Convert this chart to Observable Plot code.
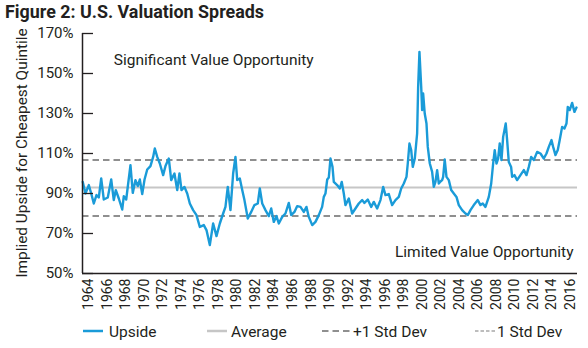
<!DOCTYPE html>
<html>
<head>
<meta charset="utf-8">
<script src="https://cdn.jsdelivr.net/npm/d3@7"></script>
<script src="https://cdn.jsdelivr.net/npm/@observablehq/plot@0.6"></script>
<style>
  html, body { margin: 0; padding: 0; background: #fff; }
  #wrap { position: relative; width: 588px; height: 348px; font-family: Roboto, sans-serif; color: #231f20; }
  #wrap > svg { position: absolute; left: 0; top: 0; }
</style>
</head>
<body>
<div id="wrap"></div>
<script>
const title = "Figure 2: U.S. Valuation Spreads";
const yLabel = "Implied Upside for Cheapest Quintile";

const years = [
  1963.35,1963.64,1964.00,1964.26,1964.54,1964.83,1965.08,1965.34,1965.62,1966.05,
  1966.42,1966.70,1966.92,1967.24,1967.61,1967.78,1968.04,1968.50,1968.75,1969.04,
  1969.29,1969.51,1969.77,1970.02,1970.31,1970.66,1970.95,1971.13,1971.39,1971.67,
  1972.03,1972.28,1972.64,1972.90,1973.25,1973.55,1973.79,1974.01,1974.33,1974.63,
  1974.91,1975.27,1975.63,1975.99,1976.42,1976.71,1977.07,1977.43,1977.79,1978.15,
  1978.51,1978.76,1979.01,1979.30,1979.59,1979.84,1980.03,1980.31,1980.57,1980.81,
  1981.17,1981.54,1981.89,1982.25,1982.47,1982.73,1983.08,1983.44,1983.70,1983.98,
  1984.27,1984.52,1984.89,1985.24,1985.60,1985.86,1986.21,1986.51,1986.86,1987.22,
  1987.51,1987.76,1988.13,1988.48,1988.84,1989.20,1989.38,1989.56,1989.75,1989.92,
  1990.10,1990.32,1990.46,1990.82,1991.11,1991.32,1991.54,1991.72,1992.08,1992.44,
  1992.80,1993.16,1993.52,1993.77,1994.13,1994.50,1994.78,1995.14,1995.50,1995.79,
  1996.04,1996.40,1996.76,1997.12,1997.48,1997.74,1998.02,1998.31,1998.45,1998.63,
  1998.82,1998.99,1999.21,1999.46,1999.57,1999.71,1999.90,2000.00,2000.11,2000.28,
  2000.47,2000.61,2000.83,2001.08,2001.26,2001.44,2001.62,2001.80,2001.98,2002.16,
  2002.27,2002.44,2002.63,2002.88,2003.14,2003.42,2003.71,2003.96,2004.32,2004.68,
  2004.93,2005.22,2005.58,2006.01,2006.30,2006.55,2006.84,2007.20,2007.46,2007.67,
  2007.84,2008.03,2008.21,2008.38,2008.57,2008.75,2008.89,2009.03,2009.18,2009.36,
  2009.61,2009.72,2009.97,2010.26,2010.62,2010.98,2011.27,2011.52,2011.78,2012.06,
  2012.42,2012.78,2013.14,2013.43,2013.68,2013.97,2014.15,2014.40,2014.65,2014.86,
  2015.12,2015.37,2015.59,2015.73,2015.94,2016.20,2016.45,2016.67
];
const upside = [
  95.8,90,94.2,90,85,89.2,88,97.5,87,88,
  97,86.7,91.7,87.5,82,88.7,87,104.2,90.3,96.7,
  93.7,97,89.7,97,102,103.7,108.3,112.5,108.3,105,
  99.2,103.7,107.5,96.7,100,91.7,100,91.7,93.3,90,
  85,81.7,79.2,73.3,74.2,71.7,64.2,75,68.7,75,
  80,83.3,93.3,81.7,100,108.3,96.7,97.5,91.7,86.7,
  77.5,80.8,84.2,85,92.5,85,81.7,78.7,82.5,75.8,
  78.7,75,78.3,80,85.3,79.2,80.8,83.7,83.3,80.8,
  83.3,78.3,74.2,75.8,79.2,83.3,88.3,90,97,98,
  107.5,103.3,95.8,94.2,92.5,95.8,90,84.2,87.5,80,
  82.5,85,86.7,85.3,87,83.3,85.8,82.5,86.7,93.3,
  89.2,89.7,84.2,86.7,88.3,92.5,95,98.3,105,115,
  111.7,103.3,107.5,120,143.3,160.8,143.3,131.7,140,130,
  125,113.3,105,100.8,93.3,95.8,101.7,95,96,96.7,
  98.3,107,98.3,96.7,91.7,90,88.3,84.2,81.7,80,
  79.2,81.7,84.2,86.7,84.2,85,83.3,88.3,95,105,
  111.7,105,107.5,115,106.7,118.3,121.7,125,116.7,105.8,
  103.3,98.3,99.2,96.7,99.2,101.7,99.2,103.3,108.3,106.7,
  110.8,110,107.5,110,113.3,116.7,113.3,109.2,111.7,116.7,
  123.3,122.5,125,133.3,131.7,135.3,130.8,133
];

const average = 93;
const plusStd = 106.7;
const minusStd = 78.8;

const yTicks = [50, 70, 90, 110, 130, 150, 170];
const xTicks = d3.range(1964, 2017, 2);
const xDomain = [1963.32, 2016.78];

const topNote = [{label: "Significant Value Opportunity", year: 1966.7, value: 156.6}];
const bottomNote = [{label: "Limited Value Opportunity", year: 2016.35, value: 60.7}];

const legendItems = [
  {label: "Upside", kind: "upside"},
  {label: "Average", kind: "average"},
  {label: "+1 Std Dev", kind: "plus"},
  {label: "1 Std Dev", kind: "minus"}
];

const series = years.map((y, i) => ({year: y, value: upside[i]}));

const ink = "#231f20";
const blue = "#1a9bd8";
const avgGrey = "#c6c6c6";
const dashGrey = "#8f8f8f";

const W = 588, H = 348;
const mL = 82, mR = 11, mT = 33, mB = 75;
const innerW = W - mL - mR;

const chart = Plot.plot({
  width: W,
  height: H,
  marginLeft: mL,
  marginRight: mR,
  marginTop: mT,
  marginBottom: mB,
  style: {fontFamily: "Roboto, sans-serif", color: ink, background: "transparent"},
  x: {domain: xDomain},
  y: {domain: [50, 170]},
  marks: [
    Plot.ruleY([average], {stroke: avgGrey, strokeWidth: 2}),
    Plot.ruleY([plusStd, minusStd], {stroke: dashGrey, strokeWidth: 2, strokeDasharray: "6.5,4"}),
    Plot.line(series, {x: "year", y: "value", stroke: blue, strokeWidth: 2.4, strokeLinejoin: "round"}),
    Plot.tickY(yTicks, {y: d => d, stroke: ink, strokeWidth: 1.3, insetRight: innerW - 11}),
    Plot.ruleX([xDomain[0]], {stroke: ink, strokeWidth: 1.5}),
    Plot.ruleY([50], {stroke: ink, strokeWidth: 1.5}),
    Plot.axisY({ticks: yTicks, tickFormat: d => d + "%", tickSize: 0, tickPadding: 9, fontSize: 15, label: null}),
    Plot.axisX({ticks: xTicks, tickFormat: d => String(d), tickRotate: -90, tickSize: 0, tickPadding: 5, fontSize: 14, label: null}),
    Plot.text(topNote, {x: "year", y: "value", text: "label", textAnchor: "start", fontSize: 15.5, fill: ink}),
    Plot.text(bottomNote, {x: "year", y: "value", text: "label", textAnchor: "end", fontSize: 15.5, fill: ink})
  ]
});

const wrap = document.getElementById("wrap");
wrap.appendChild(chart);

// overlay: title, y label, legend
const ov = d3.create("svg").attr("width", W).attr("height", H)
  .style("font-family", "Roboto, sans-serif").style("pointer-events", "none");

ov.append("text").attr("x", 5).attr("y", 18)
  .attr("font-size", 18).attr("font-weight", 700).attr("fill", ink)
  .attr("textLength", 259).attr("lengthAdjust", "spacingAndGlyphs")
  .text(title);

ov.append("text").attr("transform", "translate(27,153) rotate(-90)")
  .attr("text-anchor", "middle").attr("font-size", 15.4).attr("fill", ink)
  .text(yLabel);

const legendPos = {
  upside: {x1: 83, x2: 103, tx: 109},
  average: {x1: 207, x2: 227, tx: 231},
  plus: {x1: 322, x2: 352, tx: 353},
  minus: {x1: 475, x2: 495, tx: 497}
};
const ly = 331;
for (const item of legendItems) {
  const p = legendPos[item.kind];
  const ln = ov.append("line").attr("x1", p.x1).attr("x2", p.x2).attr("y1", ly).attr("y2", ly);
  if (item.kind === "upside") ln.attr("stroke", blue).attr("stroke-width", 2.5);
  if (item.kind === "average") ln.attr("stroke", avgGrey).attr("stroke-width", 2.5);
  if (item.kind === "plus") ln.attr("stroke", dashGrey).attr("stroke-width", 1.8).attr("stroke-dasharray", "6.5,4");
  if (item.kind === "minus") ln.attr("stroke", "#a8a8a8").attr("stroke-width", 1.5).attr("stroke-dasharray", "3.5,2");
  ov.append("text").attr("x", p.tx).attr("y", ly + 5.5).attr("font-size", 15.5).attr("fill", ink).text(item.label);
}
wrap.appendChild(ov.node());
</script>
</body>
</html>
